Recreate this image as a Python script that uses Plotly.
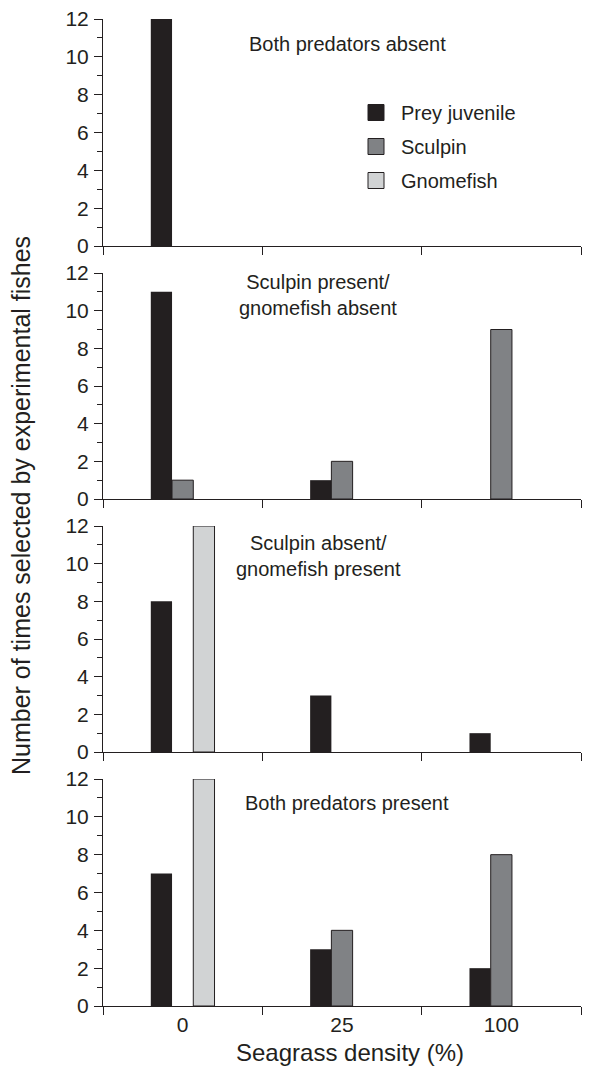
import plotly.graph_objects as go

# ---- data ----
categories = ["0", "25", "100"]
panel_titles = [
    "Both predators absent",
    "Sculpin present/<br>gnomefish absent",
    "Sculpin absent/<br>gnomefish present",
    "Both predators present",
]
prey_juvenile = [[12, 0, 0], [11, 1, 0], [8, 3, 1], [7, 3, 2]]
sculpin = [[0, 0, 0], [1, 2, 9], [0, 0, 0], [0, 4, 8]]
gnomefish = [[0, 0, 0], [0, 0, 0], [12, 0, 0], [12, 0, 0]]
y_ticks = [0, 2, 4, 6, 8, 10, 12]

series_names = ["Prey juvenile", "Sculpin", "Gnomefish"]
series_data = [prey_juvenile, sculpin, gnomefish]
fill_colors = ["#231f20", "#808285", "#d1d3d4"]
INK = "#231f20"
FONT = "Liberation Sans, Arial, Helvetica, sans-serif"

# page is rendered with an 8px body margin; work in page pixels and convert
OFF = 8
PAGE_W, PAGE_H = 605, 1069
W, H = PAGE_W - OFF, PAGE_H - OFF
PL, PR, PT, PB = 103, 581, 19, 1006   # plot area in page pixels
ML, MT = PL - OFF, PT - OFF
MR, MB = W - (PR - OFF), H - (PB - OFF)
plot_h = H - MT - MB
plot_w = W - ML - MR

# panel pixel extents in page coords (top, bottom)
panel_px = [(19, 246), (273, 499), (526, 752), (779, 1006)]

def py(v):
    return (PB - v) / plot_h

def px(v):
    return (v - PL) / plot_w

fig = go.Figure()

for p in range(4):
    ax = "" if p == 0 else str(p + 1)
    for s in range(3):
        vals = [v if v else None for v in series_data[s][p]]
        fig.add_trace(go.Bar(
            x=categories, y=vals, name=series_names[s],
            xaxis="x" + ax, yaxis="y" + ax,
            marker=dict(color=fill_colors[s],
                        line=dict(color=INK, width=1 if s > 0 else 0)),
            showlegend=False,
        ))

# legend entries
for s in range(3):
    fig.add_trace(go.Scatter(
        x=[None], y=[None], mode="markers", name=series_names[s],
        legendgroup=series_names[s],
        marker=dict(symbol="square", size=18, color=fill_colors[s],
                    line=dict(color=INK, width=1)),
        xaxis="x", yaxis="y",
    ))

layout = dict(
    width=W, height=H,
    margin=dict(l=ML, r=MR, t=MT, b=MB, autoexpand=False),
    paper_bgcolor="white", plot_bgcolor="white",
    barmode="group", bargap=0.6, bargroupgap=0,
    font=dict(family=FONT, size=20, color=INK),
    showlegend=True,
    legend=dict(x=px(351), y=py(93), xanchor="left", yanchor="top",
                font=dict(size=20, color=INK), bgcolor="rgba(0,0,0,0)",
                tracegroupgap=5, itemsizing="trace", itemwidth=40),
)

annotations = []
for p in range(4):
    ax = "" if p == 0 else str(p + 1)
    top, bot = panel_px[p]
    layout["xaxis" + ax] = dict(
        domain=[0, 1], anchor="y" + ax, type="category",
        categoryorder="array", categoryarray=categories,
        range=[-0.5, 2.5], tickson="boundaries",
        showline=True, linecolor=INK, linewidth=1,
        ticks="outside", ticklen=8, tickcolor=INK, tickwidth=1,
        showticklabels=(p == 3), showgrid=False, zeroline=False,
        tickfont=dict(size=21, color=INK),
        matches="x" if p > 0 else None,
    )
    layout["yaxis" + ax] = dict(
        domain=[py(bot), py(top)], anchor="x" + ax,
        range=[0, 12], tickvals=y_ticks,
        showline=True, linecolor=INK, linewidth=1,
        ticks="outside", ticklen=8, tickcolor=INK, tickwidth=1,
        ticklabelstandoff=1, ticklabeloverflow="allow",
        minor=dict(dtick=1, ticks="outside", ticklen=5, tickcolor=INK, tickwidth=1),
        showgrid=False, zeroline=False,
        tickfont=dict(size=21, color=INK),
    )

title_pos = [(347, 44), (318, 295), (318, 556), (347, 803)]
for p in range(4):
    x0, y0 = title_pos[p]
    annotations.append(dict(
        text=panel_titles[p], xref="paper", yref="paper",
        x=px(x0), y=py(y0), xanchor="center", yanchor="middle",
        showarrow=False, font=dict(size=20, color=INK), align="center",
    ))

annotations.append(dict(
    text="Seagrass density (%)", xref="paper", yref="paper",
    x=px(350), y=py(1052), xanchor="center", yanchor="middle",
    showarrow=False, font=dict(size=24, color=INK),
))
annotations.append(dict(
    text="Number of times selected by experimental fishes", xref="paper", yref="paper",
    x=px(21), y=py(506), xanchor="center", yanchor="middle", textangle=-90,
    showarrow=False, font=dict(size=25, color=INK),
))
layout["annotations"] = annotations

fig.update_layout(**layout)
fig.write_html("out.html")
